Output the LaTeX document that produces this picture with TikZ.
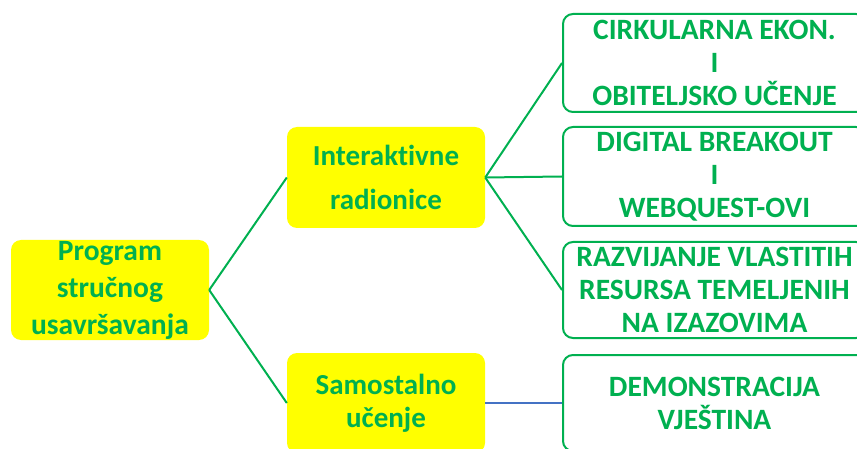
\documentclass[tikz,border=0pt]{standalone}
\usepackage{fontspec}
\setmainfont[Ligatures=NoCommon]{Carlito}
\definecolor{tgreen}{HTML}{00B050}
\definecolor{lgreen}{HTML}{00B050}
\definecolor{lblue}{HTML}{4472C4}
\definecolor{yfill}{HTML}{FFFF00}
\begin{document}
\begin{tikzpicture}[x=1pt,y=-1pt,
  ybox/.style={fill=yfill,rounded corners=10pt,inner sep=0pt,minimum width=198pt,
    align=center,text=tgreen,font=\bfseries},
  gbox/.style={draw=lgreen,line width=2pt,rounded corners=10pt,inner sep=0pt,
    minimum width=303pt,align=center,text=tgreen,font=\bfseries\fontsize{29.5}{33}\selectfont},
  conn/.style={draw=lgreen,line width=2pt},
  bconn/.style={draw=lblue,line width=2pt}]
\useasboundingbox (0,0) rectangle (857,449);
\begin{scope}
\clip (0,0) rectangle (857,449);
\node[ybox,minimum height=100pt,font=\bfseries\fontsize{29.5}{37}\selectfont] (prog) at (110,290) {Program\\stru\v{c}nog\\usavr\v{s}avanja};
\node[ybox,minimum height=101pt,font=\bfseries\fontsize{29}{44}\selectfont] (inter) at (386,177.5) {Interaktivne\\radionice};
\node[ybox,minimum height=100pt,font=\bfseries\fontsize{29}{33}\selectfont] (samo) at (386,403) {Samostalno\\u\v{c}enje};
\node[gbox,minimum height=98pt] (b1) at (714.5,63) {CIRKULARNA EKON.\\I\\OBITELJSKO U\v{C}ENJE};
\node[gbox,minimum height=99pt] (b2) at (714.5,176.5) {DIGITAL BREAKOUT\\I\\WEBQUEST-OVI};
\node[gbox,minimum height=96pt] (b3) at (714.5,290) {RAZVIJANJE VLASTITIH\\RESURSA TEMELJENIH\\NA IZAZOVIMA};
\node[gbox,minimum height=96pt] (b4) at (714.5,403) {DEMONSTRACIJA\\VJE\v{S}TINA};
\draw[conn] (prog.east) -- (inter.west);
\draw[conn] (prog.east) -- (samo.west);
\draw[conn] (inter.east) -- (b1.west);
\draw[conn] (inter.east) -- (b2.west);
\draw[conn] (inter.east) -- (b3.west);
\draw[bconn] (samo.east) -- (b4.west);
\end{scope}
\end{tikzpicture}
\end{document}
